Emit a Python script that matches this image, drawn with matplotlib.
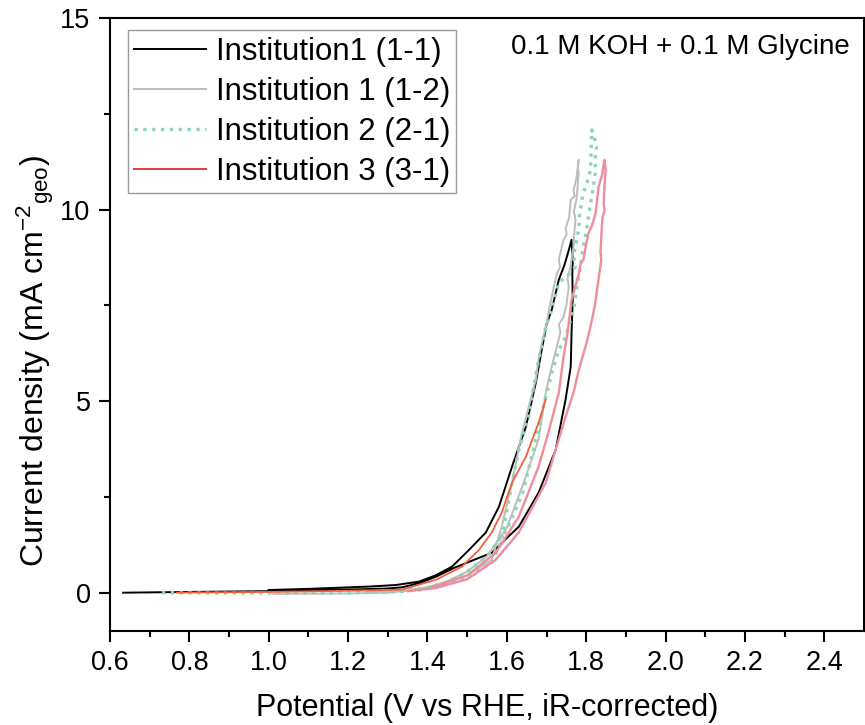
import numpy as np
import matplotlib.pyplot as plt
from matplotlib.lines import Line2D

plt.rcParams['font.family'] = ['Liberation Sans', 'DejaVu Sans']
plt.rcParams['mathtext.fontset'] = 'custom'
plt.rcParams['mathtext.rm'] = 'Liberation Sans'
plt.rcParams['mathtext.it'] = 'Liberation Sans:italic'

# Institution1 (1-1): forward scan then return scan
v11 = [0.633, 0.80, 1.00, 1.20, 1.30, 1.336, 1.38, 1.422, 1.47, 1.530, 1.562, 1.587, 1.630,
       1.680, 1.723, 1.748, 1.761, 1.763, 1.766, 1.765, 1.766, 1.763,
       1.755, 1.745, 1.731, 1.713, 1.700, 1.688, 1.673, 1.648, 1.613, 1.580, 1.547,
       1.505, 1.462, 1.420, 1.379, 1.320, 1.253, 1.10, 1.00]
j11 = [0.00, 0.02, 0.04, 0.08, 0.11, 0.14, 0.25, 0.42, 0.66, 0.91, 1.04, 1.30, 1.72,
       2.61, 3.73, 5.04, 5.90, 6.78, 7.64, 8.30, 8.69, 9.21,
       8.90, 8.55, 8.17, 7.38, 7.00, 6.34, 5.48, 4.33, 3.29, 2.24, 1.57,
       1.12, 0.68, 0.45, 0.29, 0.20, 0.16, 0.10, 0.07]

# Institution 1 (1-2)
v12 = [1.010, 1.20, 1.30, 1.38, 1.45, 1.50, 1.55, 1.60, 1.64, 1.680, 1.698, 1.713, 1.726,
       1.735, 1.731, 1.743, 1.750, 1.756, 1.753, 1.760, 1.768, 1.770, 1.773, 1.769, 1.776,
       1.781, 1.779, 1.781,
       1.775, 1.768, 1.771, 1.761, 1.757, 1.748, 1.751, 1.743, 1.738, 1.731, 1.734, 1.725,
       1.713, 1.706, 1.700, 1.688, 1.680, 1.673, 1.638, 1.613, 1.587, 1.562, 1.50, 1.43,
       1.35, 1.25]
j12 = [-0.03, -0.02, 0.00, 0.08, 0.30, 0.55, 0.95, 1.70, 2.80, 4.00, 5.22, 5.90, 6.42,
       6.80, 7.00, 7.20, 7.50, 7.98, 8.20, 8.50, 9.03, 9.40, 9.73, 9.95, 10.30,
       10.96, 11.10, 11.30,
       10.80, 10.50, 10.35, 10.25, 9.80, 9.50, 9.35, 9.21, 9.00, 8.69, 8.50, 8.30,
       7.72, 7.38, 7.00, 6.52, 6.10, 5.56, 4.17, 2.87, 1.72, 0.86, 0.45, 0.20,
       0.06, 0.02]

# Institution 2 (2-1)
v21 = [0.731, 0.90, 1.10, 1.30, 1.38, 1.45, 1.50, 1.55, 1.60, 1.64, 1.673, 1.698, 1.715,
       1.731, 1.745, 1.756, 1.770, 1.780, 1.788, 1.792, 1.798, 1.804, 1.811, 1.818, 1.824,
       1.822, 1.826, 1.820, 1.814,
       1.811, 1.805, 1.798, 1.792, 1.788, 1.784, 1.781, 1.776, 1.773, 1.768, 1.773, 1.755,
       1.731, 1.720, 1.713, 1.698, 1.690, 1.680, 1.663, 1.655, 1.630, 1.605, 1.587, 1.562,
       1.50, 1.42, 1.33, 1.20]
j21 = [0.00, -0.01, -0.01, 0.01, 0.07, 0.28, 0.55, 0.95, 1.65, 2.60, 3.99, 5.11, 5.80,
       6.34, 6.60, 6.94, 7.50, 8.20, 8.69, 9.00, 9.29, 9.70, 10.17, 10.60, 11.04,
       11.30, 11.64, 11.90, 12.08,
       11.04, 10.80, 10.59, 10.40, 10.17, 9.90, 9.47, 9.20, 9.03, 8.80, 8.51, 8.30,
       8.09, 7.70, 7.38, 6.94, 6.50, 6.08, 5.11, 4.60, 3.73, 2.43, 1.38, 0.78,
       0.40, 0.15, 0.04, 0.00]

# Institution 3 (3-1): lower scan and upper loop
v31a = [0.768, 1.00, 1.20, 1.336, 1.422, 1.487, 1.530, 1.562, 1.587, 1.613, 1.648, 1.680, 1.698]
j31a = [0.00, 0.02, 0.05, 0.08, 0.34, 0.68, 1.12, 1.57, 2.09, 2.87, 3.55, 4.44, 5.04]
v31b = [1.40, 1.50, 1.572, 1.630, 1.680, 1.706, 1.731, 1.743, 1.753, 1.763, 1.770, 1.781,
        1.786, 1.793, 1.800, 1.806, 1.815, 1.824, 1.828, 1.831, 1.840, 1.846,
        1.849, 1.846, 1.844, 1.846, 1.841, 1.839, 1.836, 1.838, 1.830, 1.822, 1.812, 1.803,
        1.792, 1.781, 1.768, 1.748, 1.698, 1.630, 1.572, 1.50, 1.42, 1.35]
j31b = [0.10, 0.45, 1.04, 1.98, 3.29, 4.23, 5.22, 6.16, 6.78, 7.64, 7.90, 8.30,
        8.60, 8.69, 9.10, 9.39, 9.60, 9.91, 10.30, 10.59, 10.90, 11.30,
        11.04, 10.60, 10.17, 9.95, 9.80, 9.47, 8.90, 8.69, 8.10, 7.50, 7.00, 6.60,
        6.20, 5.80, 5.22, 4.59, 2.87, 1.57, 0.86, 0.35, 0.12, 0.04]

x_ticks = [0.6, 0.8, 1.0, 1.2, 1.4, 1.6, 1.8, 2.0, 2.2, 2.4]
y_ticks = [0, 5, 10, 15]

fig = plt.figure(figsize=(8.65, 7.25), dpi=100)
ax = fig.add_axes([110 / 865, (725 - 631) / 725, (864 - 110) / 865, (631 - 18) / 725])

ax.plot(v11, j11, color='black', lw=1.4)
ax.plot(v12, j12, color='#bdbdbd', lw=1.4)
ax.plot(v21, j21, color='#8fd3b8', lw=2.4, ls=':')
ax.plot(v31a, j31a, color='#f5603c', lw=1.3)
ax.plot(v31b, j31b, color='#ec8e9c', lw=1.7)

ax.set_xlim(0.6, 2.5)
ax.set_ylim(-1, 15)
ax.set_xticks(x_ticks)
ax.set_xticklabels([f'{t:.1f}' for t in x_ticks])
ax.set_yticks(y_ticks)
ax.set_xticks(np.arange(0.7, 2.5, 0.2), minor=True)
ax.set_yticks([2.5, 7.5, 12.5], minor=True)
ax.tick_params(which='major', direction='out', length=8, width=1.5, labelsize=19.5, pad=6)
ax.tick_params(which='minor', direction='out', length=4, width=1.5)
for s in ax.spines.values():
    s.set_linewidth(1.5)

ax.set_xlabel('Potential (V vs RHE, iR-corrected)', fontsize=22, labelpad=12)
ax.set_ylabel(r'Current density (mA cm$^{-2}$$_{\mathrm{geo}}$)', fontsize=23)
ax.yaxis.set_label_coords(-0.071, 0.44)

handles = [Line2D([], [], color='black', lw=1.4),
           Line2D([], [], color='#bdbdbd', lw=1.4),
           Line2D([], [], color='#8fd3b8', lw=2.4, ls=':'),
           Line2D([], [], color='#e8383c', lw=1.4)]
labels = ['Institution1 (1-1)', 'Institution 1 (1-2)', 'Institution 2 (2-1)', 'Institution 3 (3-1)']
leg = ax.legend(handles, labels, loc='upper left', bbox_to_anchor=(0.024, 0.98), fontsize=22.5,
                frameon=True, fancybox=False, edgecolor='#808080', handlelength=2.3,
                handletextpad=0.3, labelspacing=0.32, borderpad=0.2, borderaxespad=0)
leg.get_frame().set_linewidth(1.0)

ax.text(0.981, 0.953, '0.1 M KOH + 0.1 M Glycine', transform=ax.transAxes, fontsize=20,
        ha='right', va='center')

fig.savefig('out.png', dpi=100)
